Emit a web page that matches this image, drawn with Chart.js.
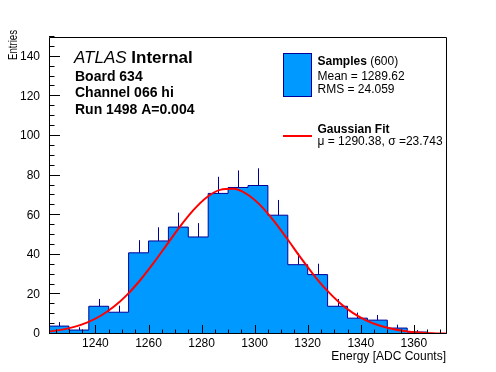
<!DOCTYPE html>
<html>
<head>
<meta charset="utf-8">
<title>Board 634 Channel 066 hi</title>
<script src="https://cdn.jsdelivr.net/npm/chart.js@4.4.1/dist/chart.umd.min.js"></script>
<style>
  html, body { margin: 0; padding: 0; background: #fff; }
  #wrap { width: 496px; height: 372px; }
</style>
</head>
<body>
<div id="wrap"><canvas id="c" width="496" height="372"></canvas></div>
<script>
/* ADC energy histogram with Gaussian fit, drawn in ROOT style */

// bins: 20 bins of 7.5 ADC counts
const binEdges = [1222.5, 1230, 1237.5, 1245, 1252.5, 1260, 1267.5, 1275, 1282.5, 1290,
    1297.5, 1305, 1312.5, 1320, 1327.5, 1335, 1342.5, 1350, 1357.5, 1365, 1372.5];
const counts = [4, 2, 14, 11, 41, 47, 54, 49, 71, 74, 75, 60, 35, 30, 14, 8, 7, 3, 1, 0];
const errors = [2, 1.4, 3.7, 3.3, 6.4, 6.9, 7.3, 7, 8.4, 8.6, 8.7, 7.7, 5.9, 5.5, 3.7, 2.8, 2.6, 1.7, 1, 0];

// fitted curve
const fitX = [1222, 1227, 1232, 1237, 1242, 1247, 1252, 1257, 1262, 1267, 1272, 1277, 1282, 1287,
    1292, 1297, 1302, 1307, 1312, 1317, 1322, 1327, 1332, 1337, 1342, 1347, 1352, 1357, 1362, 1367, 1372];
const fitY = [1.16, 2.09, 3.58, 5.87, 9.22, 13.85, 19.9, 27.4, 36.0, 45.3, 54.5, 62.7, 69.1, 72.8,
    73.3, 70.7, 65.2, 57.5, 48.6, 39.2, 30.3, 22.4, 15.8, 10.7, 6.92, 4.28, 2.53, 1.43, 0.78, 0.40, 0.20];

const xTicks = [1240, 1260, 1280, 1300, 1320, 1340, 1360];
const yTicks = [0, 20, 40, 60, 80, 100, 120, 140];

const labelLines = ['Board 634', 'Channel 066 hi', 'Run 1498 A=0.004'];
const statLines = ['Mean = 1289.62', 'RMS = 24.059'];
const fitLine = 'μ = 1290.38, σ =23.743';

const FONT = '"Liberation Sans", Arial, Helvetica, sans-serif';
const FILL_BLUE = '#0099ff';
const LINE_BLUE = '#000099';

// histogram outline: one point per left edge, plus the closing right edge
const histPoints = counts.map((n, i) => ({ x: binEdges[i], y: n }));
histPoints.push({ x: binEdges[binEdges.length - 1], y: counts[counts.length - 1] });

function crisp(v) { return Math.round(v) + 0.5; }

const rootStyle = {
    id: 'rootStyle',
    afterDatasetDraw(chart, args) {
        if (args.index !== 1) return;
        // error bars (upper half, the lower one is hidden by the fill)
        const { ctx, scales: { x, y } } = chart;
        ctx.save();
        ctx.strokeStyle = LINE_BLUE;
        ctx.lineWidth = 1;
        ctx.beginPath();
        counts.forEach((n, i) => {
            if (!errors[i]) return;
            const px = crisp(x.getPixelForValue((binEdges[i] + binEdges[i + 1]) / 2));
            ctx.moveTo(px, y.getPixelForValue(n));
            ctx.lineTo(px, y.getPixelForValue(n + errors[i]));
        });
        ctx.stroke();
        ctx.restore();
    },
    afterDatasetsDraw(chart) {
        const { ctx, chartArea: a, scales: { x, y } } = chart;
        ctx.save();
        ctx.strokeStyle = '#000';
        ctx.lineWidth = 1;
        ctx.beginPath();
        ctx.rect(a.left + 0.5, a.top + 0.5, a.right - a.left - 1, a.bottom - a.top - 1);
        // inward ticks, majors every 20, minors every 5
        for (let v = y.min; v <= y.max; v += 5) {
            const py = crisp(y.getPixelForValue(v)) - 1;
            ctx.moveTo(a.left, py);
            ctx.lineTo(a.left + (v % 20 === 0 ? 11 : 5.5), py);
        }
        for (let v = Math.ceil(x.min / 5) * 5; v <= x.max; v += 5) {
            const px = crisp(x.getPixelForValue(v));
            ctx.moveTo(px, a.bottom);
            ctx.lineTo(px, a.bottom - (v % 20 === 0 ? 9 : 4.5));
        }
        ctx.stroke();
        ctx.restore();
    },
    afterDraw(chart) {
        const ctx = chart.ctx;
        ctx.save();
        ctx.fillStyle = '#000';
        ctx.textBaseline = 'alphabetic';

        // axis titles
        ctx.font = '12px ' + FONT;
        ctx.textAlign = 'right';
        ctx.fillText('Energy [ADC Counts]', 446, 359.5);
        ctx.save();
        ctx.translate(16.5, 30);
        ctx.rotate(-Math.PI / 2);
        ctx.font = '12px ' + FONT;
        ctx.fillText('Entries', 0, 0, 30);
        ctx.restore();

        // ATLAS label
        ctx.textAlign = 'left';
        ctx.font = 'italic 17px ' + FONT;
        ctx.fillText('ATLAS', 74, 62.5);
        const w = ctx.measureText('ATLAS ').width;
        ctx.font = 'bold 17px ' + FONT;
        ctx.fillText('Internal', 74 + w, 62.5);
        ctx.font = 'bold 14px ' + FONT;
        labelLines.forEach((t, i) => ctx.fillText(t, 75, 80.5 + i * 16.7));

        // legend
        ctx.fillStyle = FILL_BLUE;
        ctx.fillRect(283.5, 53.5, 28, 43);
        ctx.strokeStyle = LINE_BLUE;
        ctx.lineWidth = 1;
        ctx.strokeRect(283.5, 53.5, 28, 43);
        ctx.fillStyle = '#000';
        ctx.font = 'bold 12px ' + FONT;
        ctx.fillText('Samples', 317.5, 65);
        const sw = ctx.measureText('Samples').width;
        ctx.font = '12px ' + FONT;
        ctx.fillText(' (600)', 317.5 + sw, 65);
        statLines.forEach((t, i) => ctx.fillText(t, 317.5, 80 + i * 13.3));

        ctx.strokeStyle = '#ff0000';
        ctx.lineWidth = 2;
        ctx.beginPath();
        ctx.moveTo(283, 136);
        ctx.lineTo(312, 136);
        ctx.stroke();
        ctx.font = 'bold 12px ' + FONT;
        ctx.fillText('Gaussian Fit', 317.5, 132.5);
        ctx.font = '12px ' + FONT;
        ctx.fillText(fitLine, 317.5, 144.5);
        ctx.restore();
    }
};

new Chart(document.getElementById('c'), {
    type: 'line',
    data: {
        datasets: [{
            label: 'Gaussian Fit',
            data: fitX.map((x, i) => ({ x: x, y: fitY[i] })),
            borderColor: '#ff0000',
            borderWidth: 2,
            pointRadius: 0,
            cubicInterpolationMode: 'monotone',
            fill: false
        }, {
            label: 'Samples',
            data: histPoints,
            stepped: 'before',
            borderColor: LINE_BLUE,
            borderWidth: 1,
            backgroundColor: FILL_BLUE,
            pointRadius: 0,
            fill: 'origin'
        }]
    },
    options: {
        responsive: false,
        animation: false,
        layout: { padding: { left: 0, right: 49, top: 37, bottom: 0 } },
        plugins: { legend: { display: false }, tooltip: { enabled: false } },
        scales: {
            x: {
                type: 'linear',
                min: binEdges[0],
                max: binEdges[binEdges.length - 1],
                grid: { display: false, drawTicks: false },
                border: { display: false },
                afterBuildTicks: s => { s.ticks = xTicks.map(v => ({ value: v })); },
                afterFit: s => { s.height = 38; },
                ticks: {
                    color: '#000', padding: 2, maxRotation: 0, autoSkip: false,
                    font: { family: FONT, size: 12 },
                    callback: v => String(v)
                }
            },
            y: {
                min: 0,
                max: 150,
                grid: { display: false, drawTicks: false },
                border: { display: false },
                afterBuildTicks: s => { s.ticks = yTicks.map(v => ({ value: v })); },
                afterFit: s => { s.width = 49; },
                ticks: { color: '#000', padding: 9, font: { family: FONT, size: 12 } }
            }
        }
    },
    plugins: [rootStyle]
});
</script>
</body>
</html>
